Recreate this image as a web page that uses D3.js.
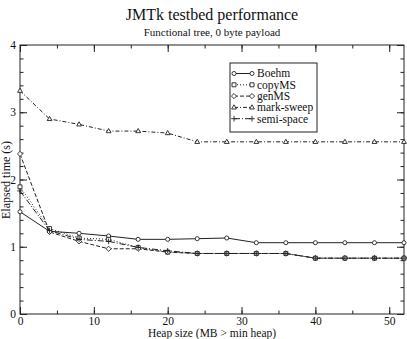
<!DOCTYPE html>
<html><head><meta charset="utf-8">
<script src="https://cdn.jsdelivr.net/npm/d3@7"></script>
<style>body{margin:0;background:#fff}svg{display:block}text{font-family:"Liberation Serif","Times New Roman",serif;fill:#111}</style>
</head><body><svg id="c" width="407" height="339"></svg>
<script>
const heap = [0,4,8,12,16,20,24,28,32,36,40,44,48,52];
const boehm = [1.52,1.23,1.20,1.16,1.11,1.11,1.12,1.13,1.06,1.06,1.06,1.06,1.06,1.06];
const copyMS = [1.89,1.27,1.13,1.11,0.99,0.92,0.90,0.90,0.90,0.90,0.83,0.83,0.83,0.83];
const genMS = [2.38,1.22,1.08,0.97,0.97,0.92,0.90,0.90,0.90,0.90,0.83,0.83,0.83,0.83];
const markSweep = [3.32,2.90,2.82,2.72,2.72,2.69,2.56,2.56,2.56,2.56,2.56,2.56,2.56,2.56];
const semiSpace = [1.83,1.24,1.11,1.08,0.99,0.94,0.90,0.90,0.90,0.90,0.83,0.83,0.83,0.83];
const seriesNames = ["Boehm","copyMS","genMS","mark-sweep","semi-space"];
const xTicks = [0,10,20,30,40,50];
const yTicks = [0,1,2,3,4];

const series = [
  {name:seriesNames[0], v:boehm, dash:null, marker:"circle"},
  {name:seriesNames[1], v:copyMS, dash:"1,2", marker:"square"},
  {name:seriesNames[2], v:genMS, dash:"4,2", marker:"diamond"},
  {name:seriesNames[3], v:markSweep, dash:"4,2,1,2", marker:"triangle"},
  {name:seriesNames[4], v:semiSpace, dash:"6,2,1,2", marker:"plus"}
];
const svg = d3.select("#c");
const L=20,R=404,T=45,B=314;
const x = d3.scaleLinear().domain([0,52]).range([L,R]);
const y = d3.scaleLinear().domain([0,4]).range([B,T]);
const ink="#222";
const serif = '"Liberation Serif", "Times New Roman", serif';

svg.append("text").attr("x",212).attr("y",20).attr("text-anchor","middle").style("font-size","16px").style("font-family",serif).text("JMTk testbed performance");
svg.append("text").attr("x",212).attr("y",36).attr("text-anchor","middle").style("font-size","11px").style("font-family",serif).text("Functional tree, 0 byte payload");

svg.append("rect").attr("x",L).attr("y",T).attr("width",R-L).attr("height",B-T).attr("fill","none").attr("stroke",ink).attr("stroke-width",1);

function axisStyle(g){g.attr("font-family",null).attr("font-size",null);g.select(".domain").remove();g.selectAll("line").attr("stroke",ink);g.selectAll("text").style("font-size","11.5px").style("font-family",serif).attr("fill","#111");}
const xMinor = d3.range(0,53,5);
const yMinor = d3.range(0,4.01,0.2);
svg.append("g").attr("transform",`translate(0,${B})`).call(d3.axisBottom(x).tickValues(xMinor).tickSize(-3.5).tickFormat("")).call(axisStyle);
svg.append("g").attr("transform",`translate(0,${B})`).call(d3.axisBottom(x).tickValues(xTicks).tickSize(-7).tickPadding(3).tickFormat(d3.format("d"))).call(axisStyle);
svg.append("g").attr("transform",`translate(0,${T})`).call(d3.axisTop(x).tickValues(xMinor).tickSize(-3.5).tickFormat("")).call(axisStyle);
svg.append("g").attr("transform",`translate(0,${T})`).call(d3.axisTop(x).tickValues(xTicks).tickSize(-7).tickFormat("")).call(axisStyle);
svg.append("g").attr("transform",`translate(${L},0)`).call(d3.axisLeft(y).tickValues(yMinor).tickSize(-3.5).tickFormat("")).call(axisStyle);
svg.append("g").attr("transform",`translate(${L},0)`).call(d3.axisLeft(y).tickValues(yTicks).tickSize(-7).tickPadding(4).tickFormat(d3.format("d"))).call(axisStyle);
svg.append("g").attr("transform",`translate(${R},0)`).call(d3.axisRight(y).tickValues(yMinor).tickSize(-3.5).tickFormat("")).call(axisStyle);
svg.append("g").attr("transform",`translate(${R},0)`).call(d3.axisRight(y).tickValues(yTicks).tickSize(-7).tickFormat("")).call(axisStyle);

svg.append("text").attr("x",212).attr("y",337).attr("text-anchor","middle").style("font-size","11.5px").style("font-family",serif).text("Heap size (MB > min heap)");
svg.append("text").attr("transform","translate(10,180) rotate(-90)").attr("text-anchor","middle").style("font-size","12px").style("font-family",serif).text("Elapsed time (s)");

function drawMarker(g, type, cx, cy){
  const s = g.append("path").attr("fill","#fff").attr("stroke",ink).attr("stroke-width",0.9);
  let d;
  if(type==="circle") d=d3.symbol(d3.symbolCircle,13)();
  else if(type==="square") d="M-2,-2H2V2H-2Z";
  else if(type==="diamond") d="M0,-2.6L2.6,0L0,2.6L-2.6,0Z";
  else if(type==="triangle") d="M0,-2.6L2.4,1.6H-2.4Z";
  else {d="M-2.8,0H2.8M0,-2.8V2.8"; s.attr("fill","none");}
  s.attr("d",d).attr("transform",`translate(${cx},${cy})`);
}
const line = d3.line().x(d=>x(d[0])).y(d=>y(d[1]));
series.forEach(s=>{
  const pts = heap.map((h,i)=>[h,s.v[i]]);
  svg.append("path").datum(pts).attr("d",line).attr("fill","none").attr("stroke",ink).attr("stroke-width",1)
    .attr("stroke-dasharray",s.dash);
  const g = svg.append("g");
  pts.forEach(p=>drawMarker(g,s.marker,x(p[0]),y(p[1])));
});

const lg = svg.append("g");
lg.append("rect").attr("x",230).attr("y",63).attr("width",87).attr("height",69).attr("fill","#fff").attr("stroke",ink).attr("stroke-width",1);
series.forEach((s,i)=>{
  const yy = 73.5 + i*11.3;
  lg.append("line").attr("x1",234).attr("x2",252).attr("y1",yy).attr("y2",yy).attr("stroke",ink).attr("stroke-dasharray",s.dash);
  drawMarker(lg,s.marker,234,yy); drawMarker(lg,s.marker,252,yy);
  lg.append("text").attr("x",257).attr("y",yy+3.8).style("font-size","11.5px").style("font-family",serif).text(s.name);
});
</script></body></html>
